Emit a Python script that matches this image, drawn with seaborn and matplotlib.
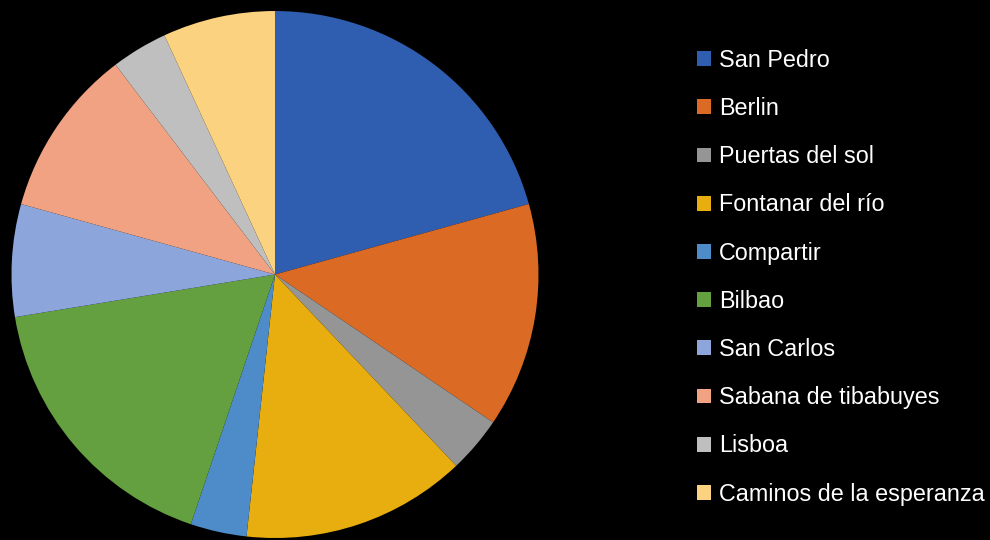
import matplotlib
matplotlib.use("Agg")
import matplotlib.pyplot as plt
import seaborn as sns

# data
barrios = ["San Pedro", "Berlin", "Puertas del sol", "Fontanar del río", "Compartir",
           "Bilbao", "San Carlos", "Sabana de tibabuyes", "Lisboa", "Caminos de la esperanza"]
valores = [6, 4, 1, 4, 1, 5, 2, 3, 1, 2]
colores = ["#2F5DAF", "#DB6A25", "#959595", "#E8AE10", "#4D8CC8",
           "#64A040", "#8CA5DA", "#F0A282", "#BFBFBF", "#FBD27F"]

sns.set_theme(style="white")
plt.rcParams['font.family'] = ['Liberation Sans', 'DejaVu Sans']
pal = sns.color_palette(colores)

fig = plt.figure(figsize=(9.9, 5.4), dpi=100, facecolor="black")
ax = fig.add_axes([0.01162, 0.0037, 0.5323, 0.9759])
ax.set_facecolor("black")

wedges, _ = ax.pie(valores, colors=pal, startangle=90, counterclock=False,
                   radius=1, wedgeprops=dict(linewidth=0))
ax.set_xlim(-1, 1)
ax.set_ylim(-1, 1)
ax.set_aspect("equal")
ax.axis("off")

leg = fig.legend(wedges, barrios, loc="upper left", bbox_to_anchor=(0.695, 0.927),
                 frameon=False, fontsize=16.8, labelcolor="white",
                 handlelength=0.6, handleheight=0.6, handletextpad=0.32,
                 labelspacing=1.08, borderaxespad=0)

fig.savefig("out.png", dpi=100, facecolor="black")
